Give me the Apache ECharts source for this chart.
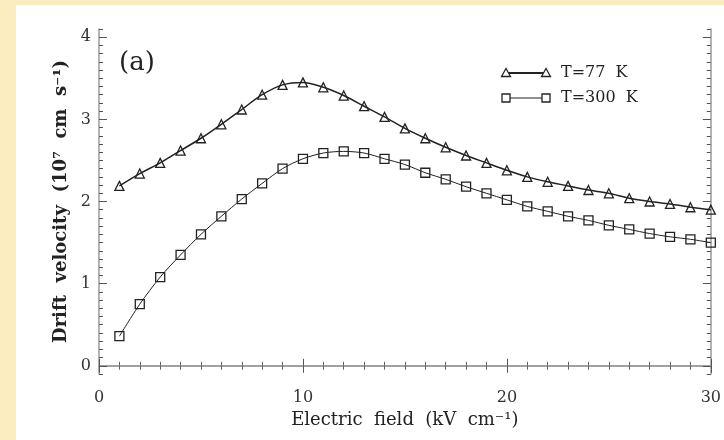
<!DOCTYPE html>
<html>
<head>
<meta charset="utf-8">
<script src="https://cdn.jsdelivr.net/npm/echarts@6/dist/echarts.min.js"></script>
<style>
  html, body { margin: 0; padding: 0; background: #fbedc0; }
  #chart { width: 724px; height: 440px; }
</style>
</head>
<body>
<div id="chart"></div>
<script>
(function() {
  const chart = echarts.init(document.getElementById('chart'));

  // electric field, kV/cm
  const fieldKV = [1, 2, 3, 4, 5, 6, 7, 8, 9, 10, 11, 12, 13, 14, 15,
    16, 17, 18, 19, 20, 21, 22, 23, 24, 25, 26, 27, 28, 29, 30];
  // drift velocity, 1e7 cm/s
  const drift77K = [2.19, 2.34, 2.47, 2.62, 2.77, 2.94, 3.12, 3.30, 3.42, 3.45,
    3.39, 3.29, 3.16, 3.03, 2.89, 2.77, 2.66, 2.56, 2.47, 2.38,
    2.30, 2.24, 2.19, 2.14, 2.10, 2.04, 2.00, 1.97, 1.93, 1.90];
  const drift300K = [0.36, 0.75, 1.08, 1.35, 1.60, 1.82, 2.03, 2.22, 2.40, 2.52,
    2.59, 2.61, 2.59, 2.52, 2.45, 2.35, 2.27, 2.18, 2.10, 2.02,
    1.94, 1.88, 1.82, 1.77, 1.71, 1.66, 1.61, 1.57, 1.54, 1.50];
  const yTickLabels = [0, 1, 2, 3, 4];
  const seriesNames = ['T=77  K', 'T=300  K'];

  const yMin = -0.1;
  const yMax = 4.1;
  const yMinor = [];
  for (let i = -1; i <= 41; i++) {
    if (i % 10 !== 0) yMinor.push(i / 10);
  }

  const ink = '#222';
  const frame = '#9a9a9a';
  const serif = 'DejaVu Serif';

  function pairs(ys) {
    return fieldKV.map((x, i) => [x, ys[i]]);
  }

  function yAxis(side, ticks, len, extra) {
    return Object.assign({
      type: 'value',
      position: side,
      min: yMin,
      max: yMax,
      splitLine: { show: false },
      axisLine: { show: false },
      axisTick: {
        show: true, inside: true, length: len, customValues: ticks,
        lineStyle: { color: '#555', width: 1 }
      },
      axisLabel: { show: false }
    }, extra || {});
  }

  function xAxis(side, extra) {
    return Object.assign({
      type: 'value',
      position: side,
      min: 0,
      max: 30,
      interval: 10,
      splitLine: { show: false },
      axisLine: { show: true, lineStyle: { color: frame, width: 1.5 } },
      axisTick: { show: true, inside: true, length: 7, lineStyle: { color: '#555' } },
      minorTick: { show: true, splitNumber: 10, length: 4, lineStyle: { color: '#666' } },
      axisLabel: { show: false }
    }, extra || {});
  }

  const option = {
    backgroundColor: '#fbedc0',
    animation: false,
    grid: { left: 99, right: 13, top: 29, bottom: 66 },
    xAxis: [
      xAxis('bottom', {
        name: 'Electric  field  (kV  cm⁻¹)',
        nameLocation: 'middle',
        nameGap: 35,
        nameTextStyle: { fontFamily: serif, fontSize: 18, color: ink },
        axisLabel: { show: true, margin: 16, fontFamily: serif, fontSize: 16, color: '#333' }
      }),
      xAxis('top')
    ],
    yAxis: [
      yAxis('left', yTickLabels, 8, {
        axisLine: { show: true, lineStyle: { color: frame, width: 1.5 } },
        name: 'Drift  velocity  (10⁷  cm  s⁻¹)',
        nameLocation: 'middle',
        nameGap: 28,
        nameTextStyle: { fontFamily: serif, fontSize: 18, fontWeight: 'bold', color: ink },
        axisLabel: {
          show: true, customValues: yTickLabels, margin: 8,
          fontFamily: serif, fontSize: 16, color: '#333'
        }
      }),
      yAxis('left', yMinor, 4),
      yAxis('right', yTickLabels, 8, {
        axisLine: { show: true, lineStyle: { color: frame, width: 1.5 } }
      }),
      yAxis('right', yMinor, 4)
    ],
    graphic: [
      {
        type: 'rect', z: -10, silent: true,
        shape: { x: 16, y: 5, width: 708, height: 435 },
        style: { fill: '#ffffff' }
      },
      {
        type: 'text', left: 119, top: 50, z: 100,
        style: { text: '(a)', font: '26px "DejaVu Serif"', fill: ink }
      },
      {
        type: 'group', z: 100,
        children: [
          { type: 'line', shape: { x1: 506, y1: 73, x2: 546, y2: 73 }, style: { stroke: ink, lineWidth: 2 } },
          { type: 'polygon', shape: { points: [[506, 68.5], [510.5, 76.5], [501.5, 76.5]] }, style: { fill: '#fff', stroke: ink, lineWidth: 1.3 } },
          { type: 'polygon', shape: { points: [[546, 68.5], [550.5, 76.5], [541.5, 76.5]] }, style: { fill: '#fff', stroke: ink, lineWidth: 1.3 } },
          { type: 'text', x: 561, y: 73, style: { text: seriesNames[0], font: '16px "DejaVu Serif"', fill: ink, verticalAlign: 'middle' } },
          { type: 'line', shape: { x1: 506, y1: 98, x2: 546, y2: 98 }, style: { stroke: ink, lineWidth: 1 } },
          { type: 'rect', shape: { x: 502, y: 94, width: 8, height: 8 }, style: { fill: '#fff', stroke: ink, lineWidth: 1.3 } },
          { type: 'rect', shape: { x: 542, y: 94, width: 8, height: 8 }, style: { fill: '#fff', stroke: ink, lineWidth: 1.3 } },
          { type: 'text', x: 561, y: 98, style: { text: seriesNames[1], font: '16px "DejaVu Serif"', fill: ink, verticalAlign: 'middle' } }
        ]
      }
    ],
    series: [
      {
        name: seriesNames[0],
        type: 'line',
        data: pairs(drift77K),
        smooth: 0.3,
        symbol: 'triangle',
        symbolSize: 9,
        lineStyle: { color: ink, width: 1.5 },
        itemStyle: { color: 'rgba(255,255,255,0)', borderColor: ink, borderWidth: 1.3 }
      },
      {
        name: seriesNames[1],
        type: 'line',
        data: pairs(drift300K),
        smooth: 0.3,
        symbol: 'rect',
        symbolSize: 9,
        lineStyle: { color: ink, width: 1 },
        itemStyle: { color: 'rgba(255,255,255,0)', borderColor: ink, borderWidth: 1.3 }
      }
    ]
  };

  chart.setOption(option);
}());
</script>
</body>
</html>
